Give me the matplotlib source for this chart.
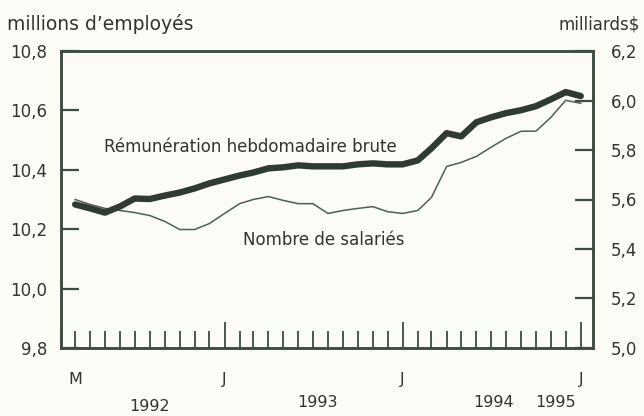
import matplotlib
matplotlib.use('Agg')
import matplotlib.pyplot as plt
import matplotlib.dates as mdates
import pandas as pd
from datetime import datetime

plt.rcParams['font.family'] = ['DejaVu Sans']

# ---------------- data ----------------
months = pd.date_range('1992-03-01', '1995-01-01', freq='MS')  # M 1992 ... J 1995

# Nombre de salariés (millions d'employés, left axis)
employees = [10.300, 10.283, 10.270, 10.263, 10.256, 10.246, 10.226, 10.199,
             10.199, 10.219, 10.253, 10.286, 10.300, 10.310, 10.297, 10.286,
             10.286, 10.253, 10.263, 10.270, 10.276, 10.259, 10.253, 10.263,
             10.307, 10.411, 10.425, 10.445, 10.476, 10.506, 10.530, 10.530,
             10.577, 10.634, 10.624]

# Rémunération hebdomadaire brute (milliards $, right axis)
earnings = [5.580, 5.564, 5.547, 5.572, 5.604, 5.602, 5.616, 5.628,
            5.645, 5.665, 5.681, 5.697, 5.709, 5.726, 5.730, 5.738,
            5.734, 5.734, 5.734, 5.742, 5.746, 5.742, 5.742, 5.758,
            5.807, 5.868, 5.855, 5.912, 5.932, 5.949, 5.961, 5.977,
            6.005, 6.034, 6.018]

left_ticks = [9.8, 10.0, 10.2, 10.4, 10.6, 10.8]
left_labels = ['9,8', '10,0', '10,2', '10,4', '10,6', '10,8']
right_ticks = [5.0, 5.2, 5.4, 5.6, 5.8, 6.0, 6.2]
right_labels = ['5,0', '5,2', '5,4', '5,6', '5,8', '6,0', '6,2']

month_labels = {0: 'M', 10: 'J', 22: 'J', 34: 'J'}
year_labels = [('1992', datetime(1992, 8, 1), 42),
               ('1993', datetime(1993, 7, 10), 39),
               ('1994', datetime(1994, 7, 6), 39),
               ('1995', datetime(1994, 11, 11), 39)]

# ---------------- style ----------------
BG = '#fbfbf8'
AX_COL = '#3d4b40'
THICK_COL = '#2e3a32'
THIN_COL = '#4e5f53'
TXT = '#333333'

fig = plt.figure(figsize=(6.44, 4.16), dpi=100, facecolor=BG)
ax = fig.add_axes([61/644, 1-348/416, (593-61)/644, (348-51)/416])
ax.set_facecolor(BG)
ax2 = ax.twinx()

ax.plot(months, employees, color=THIN_COL, lw=1.1, solid_joinstyle='round', zorder=3)
ax2.plot(months, earnings, color=THICK_COL, lw=4.6, solid_capstyle='round',
         solid_joinstyle='round', zorder=3)

ax.set_xlim(datetime(1992, 2, 1), datetime(1995, 1, 26))
ax.set_ylim(9.8, 10.8)
ax2.set_ylim(5.0, 6.2)

ax.set_yticks(left_ticks)
ax.set_yticklabels(left_labels)
ax2.set_yticks(right_ticks)
ax2.set_yticklabels(right_labels)

ax.tick_params(axis='y', direction='in', length=13, width=1.6, color=AX_COL,
               pad=10, labelsize=12, labelcolor=TXT)
ax2.tick_params(axis='y', direction='in', length=13, width=1.6, color=AX_COL,
                pad=13, labelsize=12, labelcolor=TXT)

ax.xaxis.set_major_locator(mdates.MonthLocator(bymonth=1))
ax.xaxis.set_minor_locator(mdates.MonthLocator())
ax.tick_params(axis='x', which='major', direction='in', length=19, width=1.3,
               color=AX_COL, labelbottom=False)
ax.tick_params(axis='x', which='minor', direction='in', length=12, width=1.3,
               color=AX_COL, labelbottom=False)

for a in (ax, ax2):
    for s in a.spines.values():
        s.set_color(AX_COL)
        s.set_linewidth(1.8)

# month labels
for i, lab in month_labels.items():
    ax.annotate(lab, xy=(months[i], 0), xycoords=('data', 'axes fraction'),
                xytext=(0, -23), textcoords='offset points', ha='center',
                va='center', fontsize=11.5, color=TXT)
# year labels
for lab, d, off in year_labels:
    ax.annotate(lab, xy=(d, 0), xycoords=('data', 'axes fraction'),
                xytext=(0, -off), textcoords='offset points', ha='center',
                va='center', fontsize=11.5, color=TXT)

# series labels
fig.text(250/644, 1-147/416, 'Rémunération hebdomadaire brute', ha='center',
         va='center', fontsize=12, color=TXT)
fig.text(324/644, 1-240/416, 'Nombre de salariés', ha='center', va='center',
         fontsize=12, color=TXT)

# unit labels
fig.text(7/644, 1-24/416, 'millions d\u2019employés', ha='left', va='center',
         fontsize=13.5, color=TXT)
fig.text(640/644, 1-24/416, 'milliards$', ha='right', va='center',
         fontsize=12, color=TXT)

fig.savefig('out.png', dpi=100, facecolor=BG)
